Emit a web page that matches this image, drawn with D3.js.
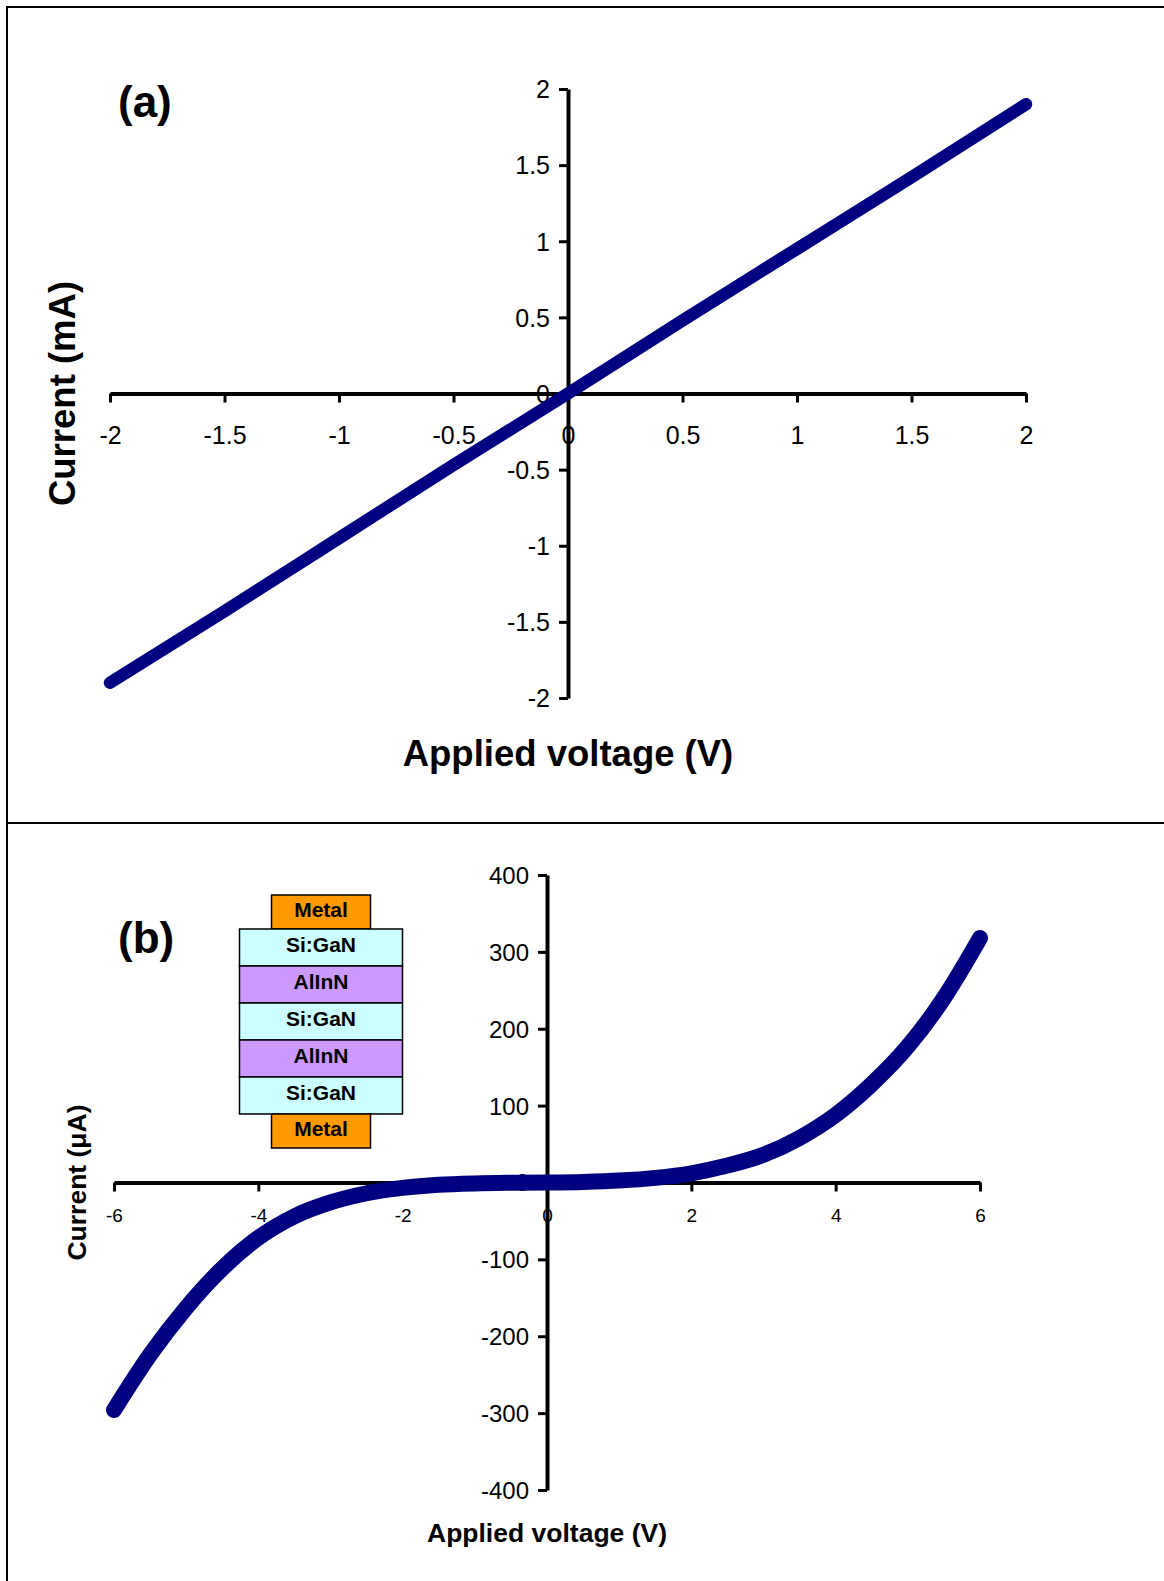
<!DOCTYPE html>
<html>
<head>
<meta charset="UTF-8">
<title>I-V curves (a) and (b)</title>
<script type="text/javascript" src="https://d3js.org/d3.v7.min.js"></script>
<style>
  body { margin: 0; background: #fff; }
  text { font-family: "Liberation Sans", Arial, sans-serif; }
</style>
</head>
<body>
<div id="plot"></div>

<script type="text/javascript">

// panel (a): linear I-V, current in mA
var voltageA = [-2, -1.5, -1, -0.5, 0, 0.5, 1, 1.5, 2]
var currentA = [-1.9, -1.43, -0.95, -0.47, 0, 0.48, 0.95, 1.42, 1.9]
var xTicksA  = [-2, -1.5, -1, -0.5, 0, 0.5, 1, 1.5, 2]
var yTicksA  = [-2, -1.5, -1, -0.5, 0, 0.5, 1, 1.5, 2]

// panel (b): non-linear I-V, current in uA
var voltageB = [-6, -5.5, -5, -4.5, -4, -3.5, -3, -2.5, -2, -1.5, -1, -0.5, 0,
                0.5, 1, 1.5, 2, 2.5, 3, 3.5, 4, 4.5, 5, 5.5, 6]
var currentB = [-296, -224, -163, -112, -72, -44, -26, -14, -7, -3, -1.2, -0.4, 0,
                0.8, 2.5, 6, 12, 22, 36, 58, 88, 128, 177, 240, 318]
var xTicksB  = [-6, -4, -2, 0, 2, 4, 6]
var yTicksB  = [-400, -300, -200, -100, 0, 100, 200, 300, 400]

// layer stack drawn as inset in (b)
var layerNames = ["Metal", "Si:GaN", "AlInN", "Si:GaN", "AlInN", "Si:GaN", "Metal"]
var layerColours = { "Metal": "#FF9900", "Si:GaN": "#CCFFFF", "AlInN": "#CC99FF" }

var width = 1164, height = 1581
var navy = "#000080"

var svg = d3.select("#plot").append("svg")
	.attr("width", width)
	.attr("height", height)

// frame and divider
svg.append("rect")
	.attr("x", 7).attr("y", 7)
	.attr("width", width).attr("height", height)
	.attr("fill", "none").attr("stroke", "#000").attr("stroke-width", 2)
svg.append("line")
	.attr("x1", 7).attr("x2", width)
	.attr("y1", 823).attr("y2", 823)
	.attr("stroke", "#000").attr("stroke-width", 2)

function drawPanel(cfg) {
	var x = d3.scaleLinear().domain(cfg.xDomain).range(cfg.xRange)
	var y = d3.scaleLinear().domain(cfg.yDomain).range(cfg.yRange)
	var g = svg.append("g")

	var xAxis = g.append("g")
		.attr("transform", "translate(0," + y(0) + ")")
		.call(d3.axisBottom(x).tickValues(cfg.xTicks).tickSize(9).tickSizeOuter(0)
			.tickFormat(function(d) { return String(d) }))
	var yAxis = g.append("g")
		.attr("transform", "translate(" + x(0) + ",0)")
		.call(d3.axisLeft(y).tickValues(cfg.yTicks).tickSize(9).tickSizeOuter(0)
			.tickFormat(function(d) { return String(d) }))

	g.selectAll(".domain").attr("stroke", "#000").attr("stroke-width", 4)
	g.selectAll(".tick line").attr("stroke", "#000").attr("stroke-width", 3)
	g.selectAll(".tick text")
		.attr("fill", "#000")
		.style("font-family", "'Liberation Sans', Arial, sans-serif")
	xAxis.selectAll(".tick text")
		.style("font-size", cfg.xTickFont + "px")
		.attr("y", cfg.xLabelGap).attr("dy", "0.71em")
	yAxis.selectAll(".tick text")
		.style("font-size", cfg.yTickFont + "px")
		.attr("x", -cfg.yLabelGap).attr("dy", "0.35em")

	var line = d3.line()
		.x(function(d) { return x(d[0]) })
		.y(function(d) { return y(d[1]) })
		.curve(d3.curveMonotoneX)
	g.append("path")
		.datum(d3.zip(cfg.xs, cfg.ys))
		.attr("d", line)
		.attr("fill", "none")
		.attr("stroke", navy)
		.attr("stroke-width", cfg.lineWidth)
		.attr("stroke-linecap", "round")
		.attr("stroke-linejoin", "round")

	g.append("text")
		.attr("x", x(0)).attr("y", cfg.xTitleY)
		.attr("text-anchor", "middle")
		.style("font-size", cfg.titleFont + "px").style("font-weight", "bold")
		.text("Applied voltage (V)")
	g.append("text")
		.attr("transform", "translate(" + cfg.yTitleX + "," + y(0) + ") rotate(-90)")
		.attr("text-anchor", "middle")
		.style("font-size", cfg.titleFont + "px").style("font-weight", "bold")
		.text(cfg.yTitle)
	g.append("text")
		.attr("x", 118).attr("y", cfg.tagY)
		.style("font-size", "44px").style("font-weight", "bold")
		.text(cfg.tag)
	return { x: x, y: y }
}

drawPanel({
	xDomain: [-2, 2], xRange: [110, 1026],
	yDomain: [-2, 2], yRange: [698, 89],
	xTicks: xTicksA, yTicks: yTicksA,
	xs: voltageA, ys: currentA,
	xTickFont: 25, yTickFont: 25, xLabelGap: 33, yLabelGap: 18,
	lineWidth: 12.5, titleFont: 36.5,
	xTitleY: 766, yTitleX: 75, yTitle: "Current (mA)",
	tag: "(a)", tagY: 117
})

drawPanel({
	xDomain: [-6, 6], xRange: [114, 980],
	yDomain: [-400, 400], yRange: [1490, 875],
	xTicks: xTicksB, yTicks: yTicksB,
	xs: voltageB, ys: currentB,
	xTickFont: 19, yTickFont: 24, xLabelGap: 26, yLabelGap: 18,
	lineWidth: 16, titleFont: 26.5,
	xTitleY: 1542, yTitleX: 86, yTitle: "Current (\u03bcA)",
	tag: "(b)", tagY: 953
})

// layer stack inset
var stackCx = 321, stackTop = 895
var metalW = 99, layerW = 163, metalH = 34, layerH = 37
var yPos = stackTop
var stack = svg.append("g")
layerNames.forEach(function(name) {
	var isMetal = name === "Metal"
	var w = isMetal ? metalW : layerW
	var h = isMetal ? metalH : layerH
	stack.append("rect")
		.attr("x", stackCx - w / 2).attr("y", yPos)
		.attr("width", w).attr("height", h)
		.attr("fill", layerColours[name])
		.attr("stroke", "#000").attr("stroke-width", 1.5)
	stack.append("text")
		.attr("x", stackCx).attr("y", yPos + h / 2)
		.attr("dy", "0.22em")
		.attr("text-anchor", "middle")
		.style("font-size", "21px").style("font-weight", "bold")
		.text(name)
	yPos += h
})

</script>
</body>
</html>
